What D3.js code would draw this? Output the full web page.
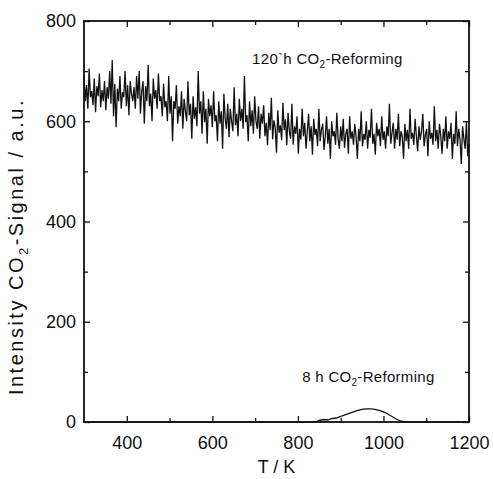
<!DOCTYPE html>
<html>
<head>
<meta charset="utf-8">
<script src="https://cdn.jsdelivr.net/npm/d3@7"></script>
<style>
  body { margin: 0; background: #fff; }
  svg text { font-family: "Liberation Sans", Arial, sans-serif; fill: #111; }
</style>
</head>
<body>
<div id="wrapper"></div>
<script>
// 120 h run: signal read every 3 K from 300 K to 1200 K
const longStartT = 300;
const longStepT = 3;
const longSignal = [
  690, 640, 672, 625, 705, 648, 660, 632, 685, 618, 670, 650, 695, 628, 662, 640, 680, 622, 668, 645,
  700, 635, 722, 610, 675, 588, 665, 640, 690, 625, 658, 648, 700, 630, 672, 612, 680, 655, 640, 668,
  625, 690, 645, 700, 615, 660, 680, 595, 670, 640, 712, 630, 655, 600, 685, 645, 662, 625, 695, 640,
  650, 610, 675, 628, 640, 600, 690, 615, 650, 560, 640, 625, 672, 595, 630, 610, 660, 585, 645, 620,
  600, 680, 612, 635, 565, 650, 605, 628, 590, 700, 615, 640, 575, 660, 598, 625, 555, 645, 610, 632,
  588, 660, 600, 612, 560, 640, 595, 620, 545, 655, 605, 585, 635, 568, 625, 600, 580, 668, 592, 615,
  570, 645, 600, 625, 585, 690, 598, 612, 560, 640, 590, 622, 575, 650, 600, 585, 630, 565, 615, 595,
  632, 570, 597, 552, 617, 582, 647, 564, 602, 587, 537, 622, 577, 592, 562, 637, 582, 604, 552, 617,
  580, 565, 635, 553, 590, 575, 610, 535, 585, 563, 625, 570, 597, 545, 580, 615, 560, 590, 533, 605,
  573, 585, 550, 625, 560, 583, 595, 543, 570, 610, 555, 585, 525, 600, 570, 580, 553, 617, 565, 545,
  590, 560, 605, 547, 575, 585, 535, 610, 565, 580, 553, 595, 570, 525, 585, 560, 620, 550, 575, 563,
  600, 545, 583, 567, 625, 555, 575, 533, 597, 570, 585, 550, 610, 563, 580, 545, 590, 570, 635, 555,
  577, 597, 545, 585, 563, 615, 550, 580, 570, 525, 595, 560, 583, 545, 625, 565, 577, 553, 605, 570,
  540, 590, 563, 580, 615, 550, 573, 585, 530, 600, 565, 577, 553, 630, 560, 583, 545, 595, 570, 535,
  585, 560, 610, 545, 580, 565, 597, 525, 575, 555, 620, 550, 585, 563, 515, 590, 565, 545, 600, 530,
  555
];

// 8 h run: small desorption peak near 960 K
const shortT = [300, 840, 850, 860, 870, 880, 890, 900, 910, 920, 930, 940, 950, 960, 970, 980, 990, 1000, 1010, 1020, 1030, 1040, 1050, 1200];
const shortSignal = [0, 0, 3, 5, 4, 7, 8, 11, 14, 17, 20, 23, 25, 26, 26, 25, 23, 20, 16, 11, 6, 2, 0, 0];

const xTicks = [400, 600, 800, 1000, 1200];
const xMinorTicks = [500, 700, 900, 1100];
const yTicks = [0, 200, 400, 600, 800];
const yMinorTicks = [100, 300, 500, 700];

const labels = [
  { text: "120`h CO", sub: "2", rest: "-Reforming", t: 693, v: 715 },
  { text: "8 h CO", sub: "2", rest: "-Reforming", t: 810, v: 80 }
];

const longData = longSignal.map((v, i) => ({ t: longStartT + i * longStepT, v: v }));
const shortData = shortT.map((t, i) => ({ t: t, v: shortSignal[i] }));

const dimensions = {
  width: 493,
  height: 479,
  margin: { top: 21, right: 24, bottom: 57, left: 84 }
};
dimensions.boundedWidth = dimensions.width - dimensions.margin.left - dimensions.margin.right;
dimensions.boundedHeight = dimensions.height - dimensions.margin.top - dimensions.margin.bottom;

const svg = d3.select("#wrapper").append("svg")
  .attr("width", dimensions.width)
  .attr("height", dimensions.height);

const bounds = svg.append("g")
  .attr("transform", `translate(${dimensions.margin.left},${dimensions.margin.top})`);

const xScale = d3.scaleLinear().domain([300, 1200]).range([0, dimensions.boundedWidth]);
const yScale = d3.scaleLinear().domain([0, 800]).range([dimensions.boundedHeight, 0]);

// data lines
const line = d3.line().x(d => xScale(d.t)).y(d => yScale(d.v));

bounds.append("path")
  .datum(longData)
  .attr("fill", "none")
  .attr("stroke", "#111")
  .attr("stroke-width", 1.3)
  .attr("d", line);

bounds.append("path")
  .datum(shortData)
  .attr("fill", "none")
  .attr("stroke", "#111")
  .attr("stroke-width", 1.3)
  .attr("d", line);

// axes with inward ticks
function styleAxis(g) {
  g.select(".domain").remove();
  g.selectAll(".tick line").attr("stroke", "#111").attr("stroke-width", 1.3);
  g.selectAll(".tick text").style("font-size", "18px").attr("fill", "#111");
}

bounds.append("g")
  .attr("transform", `translate(0,${dimensions.boundedHeight})`)
  .call(d3.axisBottom(xScale).tickValues(xTicks).tickSizeInner(-6).tickPadding(14).tickFormat(d3.format("d")))
  .call(styleAxis);
bounds.append("g")
  .attr("transform", `translate(0,${dimensions.boundedHeight})`)
  .call(d3.axisBottom(xScale).tickValues(xMinorTicks).tickSizeInner(-4).tickFormat(""))
  .call(styleAxis);
bounds.append("g")
  .call(d3.axisTop(xScale).tickValues(xTicks).tickSizeInner(-6).tickFormat(""))
  .call(styleAxis);
bounds.append("g")
  .call(d3.axisTop(xScale).tickValues(xMinorTicks).tickSizeInner(-4).tickFormat(""))
  .call(styleAxis);

bounds.append("g")
  .call(d3.axisLeft(yScale).tickValues(yTicks).tickSizeInner(-6).tickPadding(8).tickFormat(d3.format("d")))
  .call(styleAxis);
bounds.append("g")
  .call(d3.axisLeft(yScale).tickValues(yMinorTicks).tickSizeInner(-4).tickFormat(""))
  .call(styleAxis);
bounds.append("g")
  .attr("transform", `translate(${dimensions.boundedWidth},0)`)
  .call(d3.axisRight(yScale).tickValues(yTicks).tickSizeInner(-6).tickFormat(""))
  .call(styleAxis);
bounds.append("g")
  .attr("transform", `translate(${dimensions.boundedWidth},0)`)
  .call(d3.axisRight(yScale).tickValues(yMinorTicks).tickSizeInner(-4).tickFormat(""))
  .call(styleAxis);

// frame
bounds.append("rect")
  .attr("width", dimensions.boundedWidth)
  .attr("height", dimensions.boundedHeight)
  .attr("fill", "none")
  .attr("stroke", "#111")
  .attr("stroke-width", 1.8);

// annotations
labels.forEach(l => {
  const t = bounds.append("text")
    .attr("x", xScale(l.t))
    .attr("y", yScale(l.v))
    .style("font-size", "15px")
    .style("letter-spacing", "0.3px");
  t.append("tspan").text(l.text);
  t.append("tspan").attr("dy", 4).style("font-size", "10px").text(l.sub);
  t.append("tspan").attr("dy", -4).text(l.rest);
});

// axis labels
bounds.append("text")
  .attr("x", dimensions.boundedWidth / 2)
  .attr("y", dimensions.boundedHeight + 51)
  .attr("text-anchor", "middle")
  .style("font-size", "18px")
  .text("T / K");

const yLabel = bounds.append("text")
  .attr("transform", `translate(${-61},${yScale(350)}) rotate(-90)`)
  .attr("text-anchor", "middle")
  .style("font-size", "20px")
  .style("letter-spacing", "2.5px");
yLabel.append("tspan").text("Intensity CO");
yLabel.append("tspan").attr("dy", 5).style("font-size", "13px").text("2");
yLabel.append("tspan").attr("dy", -5).text("-Signal / a.u.");
</script>
</body>
</html>
